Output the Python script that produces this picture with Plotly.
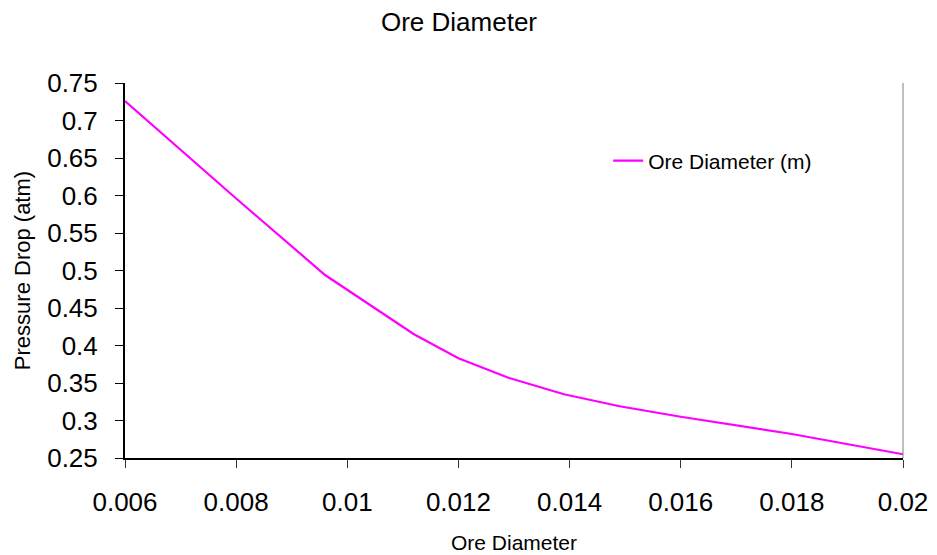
import plotly.graph_objects as go

# Pressure drop across the bed for each ore particle diameter
diameter = [0.006, 0.008, 0.0096, 0.0112, 0.012, 0.0129, 0.0139, 0.0149, 0.016, 0.018, 0.02]
pressure_drop = [0.726, 0.596, 0.494, 0.415, 0.383, 0.357, 0.335, 0.319, 0.305, 0.282, 0.255]

x_ticks = [0.006, 0.008, 0.01, 0.012, 0.014, 0.016, 0.018, 0.02]
x_labels = ["0.006", "0.008", "0.01", "0.012", "0.014", "0.016", "0.018", "0.02"]
y_ticks = [0.25, 0.3, 0.35, 0.4, 0.45, 0.5, 0.55, 0.6, 0.65, 0.7, 0.75]
y_labels = ["0.25", "0.3", "0.35", "0.4", "0.45", "0.5", "0.55", "0.6", "0.65", "0.7", "0.75"]

FONT = "Liberation Sans, Arial, sans-serif"

fig = go.Figure()
fig.add_trace(go.Scatter(
    x=diameter, y=pressure_drop, mode="lines",
    name="Ore Diameter (m)",
    line=dict(color="#FF00FF", width=2.2),
))

fig.update_layout(
    width=937, height=555,
    margin=dict(l=125, r=34, t=83, b=97),
    paper_bgcolor="white", plot_bgcolor="white",
    font=dict(family=FONT, color="black"),
    title=dict(text="Ore Diameter", font=dict(size=26, family=FONT, color="black"),
               x=459 / 937, xref="container", xanchor="center",
               y=1 - 22 / 555, yref="container", yanchor="middle"),
    showlegend=True,
    legend=dict(x=0.621, y=0.792, xanchor="left", yanchor="middle",
                bgcolor="rgba(0,0,0,0)", font=dict(size=21, family=FONT)),
    xaxis=dict(
        range=[0.006, 0.02], tickvals=x_ticks, ticktext=x_labels,
        showgrid=False, zeroline=False, automargin=False,
        showline=True, linecolor="black", linewidth=2,
        ticks="outside", ticklen=8, tickwidth=1, tickcolor="#333333",
        tickfont=dict(size=26, family=FONT), ticklabelstandoff=12,
        title=dict(text="Ore Diameter", font=dict(size=21, family=FONT), standoff=19),
    ),
    yaxis=dict(
        range=[0.25, 0.75], tickvals=y_ticks, ticktext=y_labels,
        showgrid=False, zeroline=False, automargin=False,
        showline=True, linecolor="black", linewidth=2,
        ticks="outside", ticklen=8, tickwidth=1, tickcolor="black",
        tickfont=dict(size=26, family=FONT), ticklabelstandoff=12,
        title=dict(text="Pressure Drop (atm)", font=dict(size=22, family=FONT), standoff=10),
    ),
    shapes=[dict(type="line", xref="paper", yref="paper", x0=1, x1=1, y0=0, y1=1,
                 line=dict(color="#808080", width=1))],
)

fig.write_html("out.html")
